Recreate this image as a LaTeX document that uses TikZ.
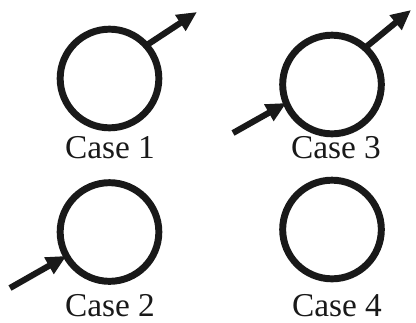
\documentclass[tikz,border=0pt]{standalone}
\usepackage{fontspec}
\setmainfont{Liberation Serif}
\usetikzlibrary{arrows.meta}
\begin{document}
\begin{tikzpicture}[x=0.75pt,y=-0.75pt,
  ring/.style={circle,draw=black!90,line width=5.2pt,minimum size=74pt,inner sep=0pt,outer sep=0pt},
  arr/.style={draw=black!90,line width=4.6pt,-{Triangle[length=15pt,width=13.5pt]}},
  lab/.style={anchor=base,font=\fontsize{25pt}{28pt}\selectfont,text=black!90,inner sep=0pt}]
\useasboundingbox (0,0) rectangle (416,322);
\node[ring] (c1) at (109.5,78.5) {};
\node[ring] (c3) at (332,84.5) {};
\node[ring] (c2) at (109.5,232) {};
\node[ring] (c4) at (332,229.5) {};
\coordinate (t1) at (197,12);
\coordinate (t3) at (411,10);
\coordinate (s3) at (233,133);
\coordinate (s2) at (10,288);
\draw[arr] (c1.42) -- (t1);
\draw[arr] (c3.48) -- (t3);
\draw[arr] (s3) -- (c3.202);
\draw[arr] (s2) -- (c2.209);
\node[lab] (l1) at (110,158) {Case 1};
\node[lab] (l3) at (336,158) {Case 3};
\node[lab] (l2) at (110,316.5) {Case 2};
\node[lab] (l4) at (337,316.5) {Case 4};
\end{tikzpicture}
\end{document}
